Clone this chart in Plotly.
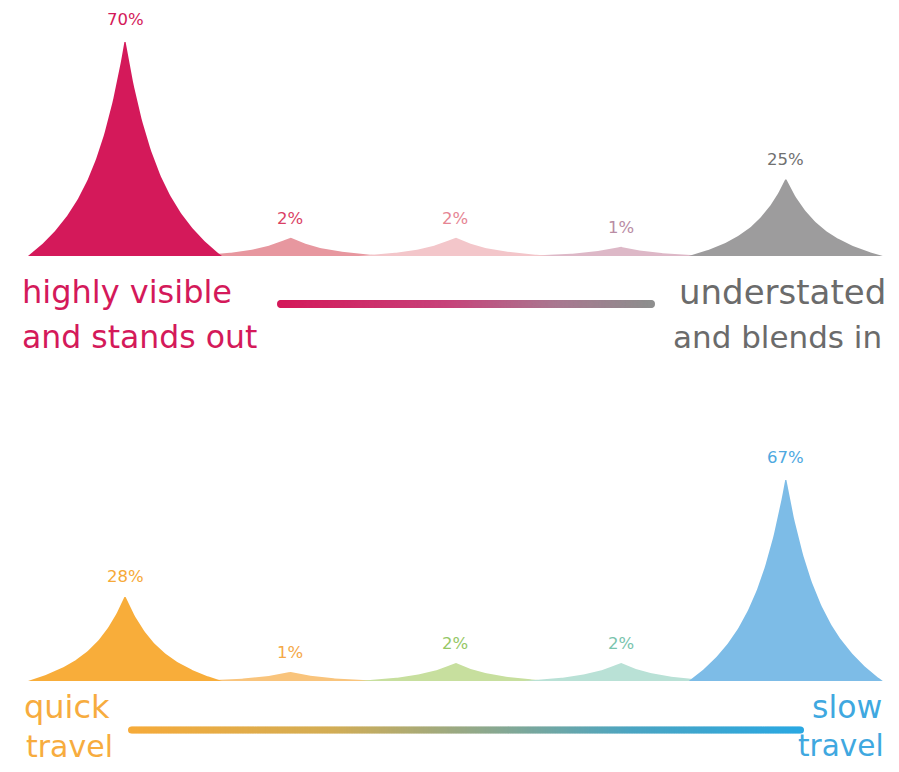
import numpy as np
import plotly.graph_objects as go

# ---------------- data ----------------
categories = [1, 2, 3, 4, 5]          # scale position from left pole to right pole
visible_values = [70, 2, 2, 1, 25]    # highly visible ... understated
travel_values = [28, 1, 2, 2, 67]     # quick travel ... slow travel
visible_labels = ["70%", "2%", "2%", "1%", "25%"]
travel_labels = ["28%", "1%", "2%", "2%", "67%"]

visible_fill = ["#D4195A", "#E7979F", "#F3C6CA", "#DDB8C7", "#9D9C9D"]
visible_text = ["#D4195A", "#DA3F64", "#E68593", "#B98CA4", "#707070"]
travel_fill = ["#F8AD3A", "#F9C47C", "#C7DF9E", "#B9E1D6", "#7DBCE7"]
travel_text = ["#F6A937", "#F4A847", "#95C765", "#79C4AD", "#4EA8DF"]

# page body has an 8px margin, so the figure is drawn smaller to avoid scrollbars
W, H = 891, 756
OFF = 8
PX0, PXS = 125 - OFF, 165.2      # pixel position of first category and spacing
TOP_BASE, TOP_SCALE = 256 - OFF, 3.11
BOT_BASE, BOT_SCALE = 681 - OFF, 3.05
HALF_W = 97 / PXS                # half width of a spike in category units
K, M = 2.7, 5
FONT = "DejaVu Sans"


def shown_height(v):
    # the infographic exaggerates tiny shares so they remain visible
    return v if v >= 10 else 3 * v


def spike(center, h, n=160):
    d = np.linspace(-1, 1, n)
    a = np.abs(d)
    y = h * np.exp(-K * a) * (1 - a ** M)
    return center + d * HALF_W, y


fig = go.Figure()


def add_panel(values, labels, fills, tcols, xa, ya):
    order = np.argsort([shown_height(v) for v in values])
    for idx in order:
        c = categories[idx] - 1
        xs, ys = spike(c, shown_height(values[idx]))
        fig.add_trace(go.Scatter(x=xs, y=ys, mode="lines", fill="toself",
                                 fillcolor=fills[idx], line=dict(width=0, color=fills[idx]),
                                 xaxis=xa, yaxis=ya, hoverinfo="skip", showlegend=False))
    for idx, v in enumerate(values):
        fig.add_annotation(x=categories[idx] - 1, y=shown_height(v), xref=xa, yref=ya,
                           text=labels[idx], showarrow=False, yanchor="middle", yshift=19,
                           font=dict(family=FONT, size=16.5, color=tcols[idx]))


add_panel(visible_values, visible_labels, visible_fill, visible_text, "x", "y")
add_panel(travel_values, travel_labels, travel_fill, travel_text, "x2", "y2")


def add_bar(px_a, px_b, py, base, scale, colorscale, xa, ya, size):
    xa_v = (px_a - OFF - PX0) / PXS
    xb_v = (px_b - OFF - PX0) / PXS
    xs = np.linspace(xa_v, xb_v, 400)
    yv = -(py - OFF - base) / scale
    fig.add_trace(go.Scatter(x=xs, y=[yv] * len(xs), mode="markers",
                             marker=dict(size=size, color=np.linspace(0, 1, len(xs)),
                                         colorscale=colorscale, cmin=0, cmax=1,
                                         line=dict(width=0), symbol="circle"),
                             xaxis=xa, yaxis=ya, hoverinfo="skip", showlegend=False))


add_bar(281, 651, 304, TOP_BASE, TOP_SCALE,
        [[0, "#D4195A"], [0.45, "#C7427A"], [0.75, "#A97890"], [1, "#8E8E8E"]], "x", "y", 8)
add_bar(131.5, 800.5, 730, BOT_BASE, BOT_SCALE,
        [[0, "#F6AB3A"], [0.3, "#D3AD55"], [0.5, "#97A985"], [0.75, "#4BA5C2"], [1, "#2AA8E2"]],
        "x2", "y2", 7)


# pole labels (positions given in page pixels)
def pole(text, px, py, anchor, color, size):
    fig.add_annotation(x=(px - OFF) / W, y=1 - (py - OFF) / H, xref="paper", yref="paper",
                       text=text, showarrow=False, xanchor=anchor, yanchor="middle",
                       font=dict(family=FONT, size=size, color=color))


pole("highly visible", 20, 292, "left", "#D4195A", 32)
pole("and stands out", 20, 337, "left", "#D4195A", 31.5)
pole("understated", 888, 292, "right", "#6B6B6B", 34)
pole("and blends in", 884, 337, "right", "#6B6B6B", 31)
pole("quick", 22, 707, "left", "#F7AC3E", 32)
pole("travel", 24, 746, "left", "#F7AC3E", 30)
pole("slow", 884, 707, "right", "#3FA8E0", 31.5)
pole("travel", 886, 746, "right", "#3FA8E0", 29.5)

xrange = [(0 - PX0) / PXS, (W - PX0) / PXS]
top_dom_px = (0, 350)
bot_dom_px = (372, H)
top_range = [-(top_dom_px[1] - TOP_BASE) / TOP_SCALE, (TOP_BASE - top_dom_px[0]) / TOP_SCALE]
bot_range = [-(bot_dom_px[1] - BOT_BASE) / BOT_SCALE, (BOT_BASE - bot_dom_px[0]) / BOT_SCALE]

ax = dict(visible=False, showgrid=False, zeroline=False, fixedrange=True)
fig.update_layout(
    width=W, height=H, margin=dict(l=0, r=0, t=0, b=0),
    paper_bgcolor="white", plot_bgcolor="white", showlegend=False,
    xaxis=dict(range=xrange, domain=[0, 1], **ax),
    yaxis=dict(range=top_range, domain=[1 - top_dom_px[1] / H, 1 - top_dom_px[0] / H], **ax),
    xaxis2=dict(range=xrange, domain=[0, 1], anchor="y2", **ax),
    yaxis2=dict(range=bot_range, domain=[1 - bot_dom_px[1] / H, 1 - bot_dom_px[0] / H],
                anchor="x2", **ax),
)

fig.write_html("out.html", config={"displayModeBar": False})
